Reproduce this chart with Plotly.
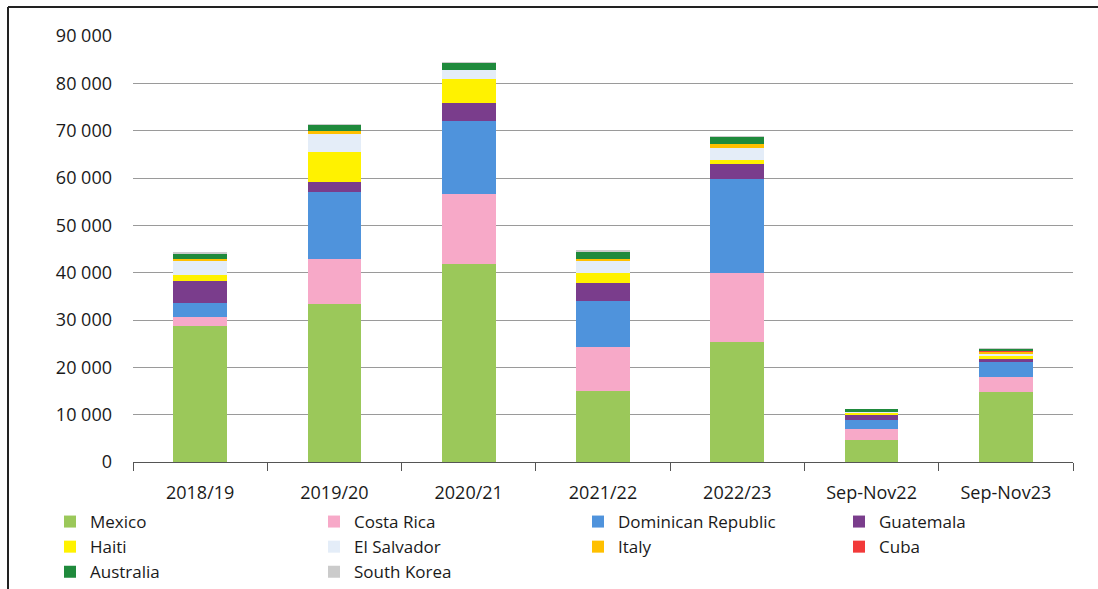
import plotly.graph_objects as go

categories = ["2018/19", "2019/20", "2020/21", "2021/22", "2022/23", "Sep-Nov22", "Sep-Nov23"]

mexico = [28800, 33400, 41800, 15000, 25400, 4600, 14700]
costa_rica = [1900, 9500, 14800, 9200, 14500, 2400, 3300]
dominican_republic = [2800, 14200, 15500, 9800, 19800, 1900, 3200]
guatemala = [4800, 2100, 3700, 3900, 3300, 1200, 600]
haiti = [1300, 6300, 5100, 2000, 700, 300, 600]
el_salvador = [3000, 4000, 2000, 2600, 2600, 100, 600]
italy = [300, 400, 0, 300, 900, 0, 300]
cuba = [0, 0, 0, 0, 0, 0, 200]
australia = [1200, 1400, 1400, 1700, 1500, 800, 400]
south_korea = [100, 100, 100, 300, 100, 0, 100]

y_ticks = [0, 10000, 20000, 30000, 40000, 50000, 60000, 70000, 80000, 90000]
y_tick_labels = ["0", "10 000", "20 000", "30 000", "40 000", "50 000", "60 000", "70 000", "80 000", "90 000"]

series = [
    ("Mexico", mexico, "#9BC85A", "legend"),
    ("Costa Rica", costa_rica, "#F7A9C8", "legend2"),
    ("Dominican Republic", dominican_republic, "#4F93DC", "legend3"),
    ("Guatemala", guatemala, "#7A3D8C", "legend4"),
    ("Haiti", haiti, "#FFF200", "legend"),
    ("El Salvador", el_salvador, "#E4EDF8", "legend2"),
    ("Italy", italy, "#FFC000", "legend3"),
    ("Cuba", cuba, "#F23A3A", "legend4"),
    ("Australia", australia, "#1F8A3C", "legend"),
    ("South Korea", south_korea, "#CBCBCB", "legend2"),
]

W, H = 1098, 589
ML, MR, MT, MB = 133, 25, 36, 127
PW, PH = W - ML - MR, H - MT - MB

def px_x(p):
    return (p - ML) / PW

def px_y(p):
    return (H - MB - p) / PH

fig = go.Figure()
for name, vals, color, leg in series:
    fig.add_trace(go.Bar(
        x=categories, y=vals, name=name, legend=leg,
        marker=dict(color=color, line=dict(width=0)),
    ))

font = dict(family="Open Sans, Noto Sans, sans-serif", size=18, color="#1a1a1a")
legend_font = dict(family="Open Sans, Noto Sans, sans-serif", size=17, color="#1a1a1a")

def legend_cfg(xpx):
    return dict(
        x=px_x(xpx), y=px_y(504), xanchor="left", yanchor="top",
        orientation="v", font=legend_font, bgcolor="rgba(0,0,0,0)",
        tracegroupgap=0, itemwidth=30, traceorder="normal",
    )

fig.update_layout(
    width=W, height=H,
    margin=dict(l=ML, r=MR, t=MT, b=MB, autoexpand=False),
    barmode="stack",
    bargap=0.6,
    plot_bgcolor="white",
    paper_bgcolor="white",
    font=font,
    legend=legend_cfg(92 - 42),
    legend2=legend_cfg(356 - 42),
    legend3=legend_cfg(620 - 42),
    legend4=legend_cfg(881 - 42),
    xaxis=dict(
        showline=True, linecolor="#555555", linewidth=1,
        ticks="outside", tickson="boundaries", ticklen=8, tickcolor="#555555",
        showgrid=False, tickfont=font, ticklabelstandoff=14,
    ),
    yaxis=dict(
        range=[0, 90000], tickvals=y_ticks, ticktext=y_tick_labels,
        showgrid=True, gridcolor="#9a9a9a", gridwidth=1,
        zeroline=False, showline=False, ticks="", ticklabelstandoff=20,
        tickfont=font,
    ),
    shapes=[
        dict(type="line", xref="paper", yref="paper",
             x0=px_x(8), x1=px_x(1098), y0=px_y(7), y1=px_y(7),
             line=dict(color="#222222", width=2)),
        dict(type="line", xref="paper", yref="paper",
             x0=px_x(8), x1=px_x(8), y0=px_y(7), y1=px_y(600),
             line=dict(color="#222222", width=2)),
    ],
)

fig.write_html("out.html")
